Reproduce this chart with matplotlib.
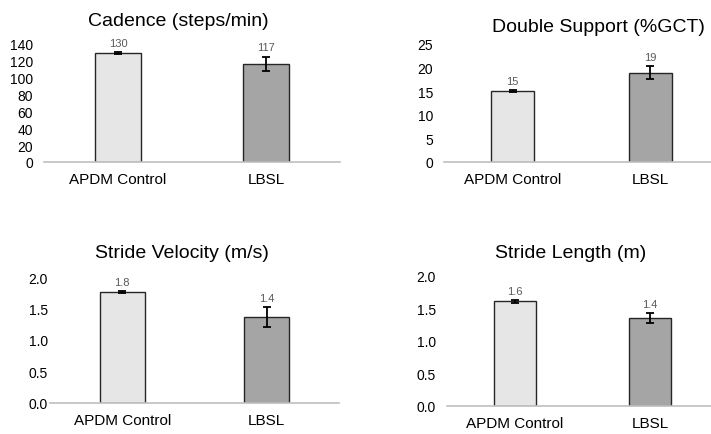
import matplotlib
matplotlib.use('Agg')
import matplotlib.pyplot as plt

plt.rcParams['font.family'] = ['Liberation Sans', 'DejaVu Sans']

# Data
groups = ['APDM Control', 'LBSL']

cadence = [129.6, 116.6]
cadence_err = [1.0, 8.5]

double_support = [15.1, 18.9]
double_support_err = [0.2, 1.35]

stride_velocity = [1.76, 1.365]
stride_velocity_err = [0.02, 0.155]

stride_length = [1.61, 1.355]
stride_length_err = [0.02, 0.075]

titles = ['Cadence (steps/min)', 'Double Support (%GCT)',
          'Stride Velocity (m/s)', 'Stride Length (m)']
label_fmt = ['{:.0f}', '{:.0f}', '{:.1f}', '{:.1f}']
y_limits = [(0, 140), (0, 25), (0, 2.0), (0, 2.0)]
y_steps = [20, 5, 0.5, 0.5]

bar_colors = ['#e7e6e6', '#a5a5a5']

W, H = 711, 435
fig = plt.figure(figsize=(W / 100, H / 100), dpi=100)

# axes boxes in pixels: left, right, top, bottom
boxes = [(44, 340, 45, 163), (444, 719, 45, 163),
         (50, 339, 278, 404), (447, 718, 277, 407)]
# title centres in pixels
title_pos = [(178, 22), (598, 27), (182, 253), (571, 253)]
ytick_pad = [8, 8, 1.5, 8]

series = [(cadence, cadence_err), (double_support, double_support_err),
          (stride_velocity, stride_velocity_err), (stride_length, stride_length_err)]

for i, (vals, errs) in enumerate(series):
    l, r, t, b = boxes[i]
    ax = fig.add_axes([l / W, 1 - b / H, (r - l) / W, (b - t) / H])
    x = range(len(groups))
    ax.bar(x, vals, width=0.31, color=bar_colors, edgecolor='#262626', linewidth=1.0, zorder=2)
    ax.errorbar(x, vals, yerr=errs, fmt='none', ecolor='black', elinewidth=1.3,
                capsize=3, capthick=1.3, zorder=3)
    for xi, v, e in zip(x, vals, errs):
        ax.annotate(label_fmt[i].format(v), (xi, v + e), xytext=(0, 3),
                    textcoords='offset points', ha='center', va='bottom',
                    fontsize=8, color='#595959')
    ax.set_xlim(-0.5, 1.5)
    lo, hi = y_limits[i]
    ax.set_ylim(lo, hi)
    n = int(round((hi - lo) / y_steps[i]))
    ticks = [lo + k * y_steps[i] for k in range(n + 1)]
    ax.set_yticks(ticks)
    if y_steps[i] < 1:
        ax.set_yticklabels(['{:.1f}'.format(v) for v in ticks])
    ax.set_xticks(list(x))
    ax.set_xticklabels(groups)
    ax.tick_params(axis='x', length=0, pad=7, labelsize=11)
    ax.tick_params(axis='y', length=0, pad=ytick_pad[i], labelsize=10)
    for s in ['top', 'right', 'left']:
        ax.spines[s].set_visible(False)
    ax.spines['bottom'].set_color('#bfbfbf')
    ax.spines['bottom'].set_linewidth(1.2)
    ax.patch.set_alpha(0)
    tx, ty = title_pos[i]
    fig.text(tx / W, 1 - ty / H, titles[i], ha='center', va='center', fontsize=14)

fig.savefig('out.png', dpi=100)
